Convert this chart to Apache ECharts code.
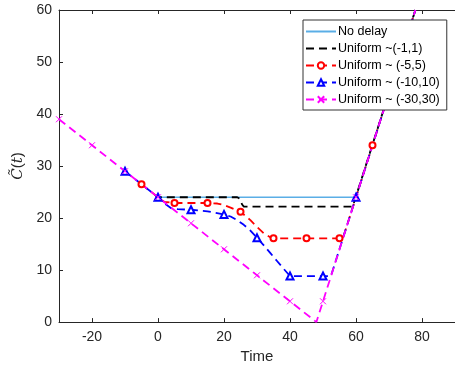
<!DOCTYPE html>
<html>
<head>
<meta charset="utf-8">
<script src="https://cdn.jsdelivr.net/npm/echarts@6/dist/echarts.min.js"></script>
<style>
  html, body { margin: 0; padding: 0; background: #fff; }
  #chart { width: 455px; height: 369px; }
</style>
</head>
<body>
<div id="chart"></div>
<script>
// tick labels
const xTicks = [-20, 0, 20, 40, 60, 80];

// no delay
const tNone = [0, 60, 78];
const cNone = [24, 24, 60];

// Uniform ~(-1,1)
const tU1 = [-1, 0, 24, 24.8, 25.5, 26, 59, 78];
const cU1 = [24.5, 24, 24, 23.7, 22.6, 22.2, 22.2, 60];
const mU1 = [];

// Uniform ~ (-5,5)
const tU5 = [-5, 0, 2, 5, 10, 15, 18, 20, 22, 25, 28, 30, 32, 34, 35, 45, 55, 56, 60, 65, 75, 78];
const cU5 = [26.5, 24, 23.1, 22.9, 22.9, 22.9, 22.8, 22.5, 22.0, 21.2, 19.6, 18.3, 17.1, 16.3, 16.1, 16.1, 16.1, 16.1, 24, 34, 54, 60];
const mU5 = [-5, 5, 15, 25, 35, 45, 55, 65, 75];

// Uniform ~ (-10,10)
const tU10 = [-10, 0, 2, 4, 6, 10, 15, 20, 22, 24, 26, 28, 30, 32, 34, 36, 38, 40, 50, 52.4, 60, 70, 78];
const cU10 = [29, 24, 22.8, 21.9, 21.7, 21.6, 21.3, 20.7, 20.3, 19.6, 18.7, 17.6, 16.2, 14.8, 13.3, 11.8, 10.3, 8.85, 8.85, 8.85, 24, 44, 60];
const mU10 = [-10, 0, 10, 20, 30, 40, 50, 60, 70];

// Uniform ~ (-30,30)
const tU30 = [-30, -20, -10, 0, 10, 20, 30, 40, 48, 50, 60, 70, 78];
const cU30 = [39, 34, 29, 24, 19, 14, 9, 4, 0, 4, 24, 44, 60];
const mU30 = [-30, -20, -10, 0, 10, 20, 30, 40, 50, 60, 70];

function build(ts, cs, marks) {
  return ts.map((t, i) => marks.indexOf(t) >= 0 ? [t, cs[i]] : { value: [t, cs[i]], symbol: 'none' });
}

const axisColor = '#262626';
const dash = [8, 5];
const cross = 'path://M0,0L10,10M10,0L0,10';

const chart = echarts.init(document.getElementById('chart'));
chart.setOption({
  animation: false,
  textStyle: { fontFamily: 'Liberation Sans, Arial, sans-serif' },
  grid: { left: 59, top: 10, right: -1, bottom: 45 },
  legend: {
    orient: 'vertical',
    left: 303,
    top: 20,
    padding: [5, 7, 4, 2],
    itemWidth: 30,
    itemHeight: 8,
    itemGap: 4,
    backgroundColor: '#fff',
    borderColor: '#333',
    borderWidth: 1,
    textStyle: { fontSize: 12.5, color: '#000', lineHeight: 12, padding: [0, 0, 0, -3] },
    data: ['No delay', 'Uniform ~(-1,1)', 'Uniform ~ (-5,5)', 'Uniform ~ (-10,10)', 'Uniform ~ (-30,30)']
  },
  xAxis: [{
    type: 'value', min: -30, max: 90,
    name: 'Time', nameLocation: 'middle', nameGap: 22,
    nameTextStyle: { fontSize: 15, color: axisColor },
    axisLine: { onZero: false, lineStyle: { color: axisColor } },
    axisTick: { inside: true, length: 4, customValues: xTicks, lineStyle: { color: axisColor } },
    axisLabel: { customValues: xTicks, fontSize: 14, color: axisColor, margin: 8 },
    splitLine: { show: false }
  }, {
    type: 'value', min: -30, max: 90, position: 'top',
    axisLine: { onZero: false, lineStyle: { color: axisColor } },
    axisTick: { inside: true, length: 4, customValues: xTicks, lineStyle: { color: axisColor } },
    axisLabel: { show: false },
    splitLine: { show: false }
  }],
  yAxis: {
    type: 'value', min: 0, max: 60, interval: 10,
    name: '{i|C\u0303}({i|t})', nameLocation: 'middle', nameGap: 30, nameRotate: 90,
    nameTextStyle: { fontSize: 15, color: axisColor, rich: { i: { fontStyle: 'italic', fontSize: 15, color: axisColor, fontFamily: 'DejaVu Serif, serif' } } },
    axisLine: { show: true, onZero: false, lineStyle: { color: axisColor } },
    axisTick: { show: true, inside: true, length: 4, lineStyle: { color: axisColor } },
    axisLabel: { fontSize: 14, color: axisColor, margin: 7 },
    splitLine: { show: false }
  },
  series: [{
    name: 'No delay', type: 'line', symbol: 'none',
    lineStyle: { color: '#5aaee6', width: 1.6 },
    itemStyle: { color: '#5aaee6', opacity: 0 },
    data: build(tNone, cNone, [])
  }, {
    name: 'Uniform ~(-1,1)', type: 'line', symbol: 'none',
    lineStyle: { color: '#000', width: 1.8, type: dash },
    itemStyle: { color: '#000', opacity: 0 },
    data: build(tU1, cU1, mU1)
  }, {
    name: 'Uniform ~ (-5,5)', type: 'line', symbol: 'emptyCircle', symbolSize: 6, showAllSymbol: true,
    lineStyle: { color: '#ff0000', width: 1.8, type: dash },
    itemStyle: { color: '#ff0000', borderColor: '#ff0000', borderWidth: 1 },
    data: build(tU5, cU5, mU5)
  }, {
    name: 'Uniform ~ (-10,10)', type: 'line', symbol: 'emptyTriangle', symbolSize: 7, showAllSymbol: true,
    lineStyle: { color: '#0000ff', width: 1.8, type: dash },
    itemStyle: { color: '#0000ff', borderColor: '#0000ff', borderWidth: 1 },
    data: build(tU10, cU10, mU10)
  }, {
    name: 'Uniform ~ (-30,30)', type: 'line', symbol: cross, symbolSize: 6, showAllSymbol: true,
    lineStyle: { color: '#ff00ff', width: 1.8, type: dash },
    itemStyle: { color: '#ff00ff', borderColor: '#ff00ff', borderWidth: 1 },
    data: build(tU30, cU30, mU30)
  }]
});
</script>
</body>
</html>
